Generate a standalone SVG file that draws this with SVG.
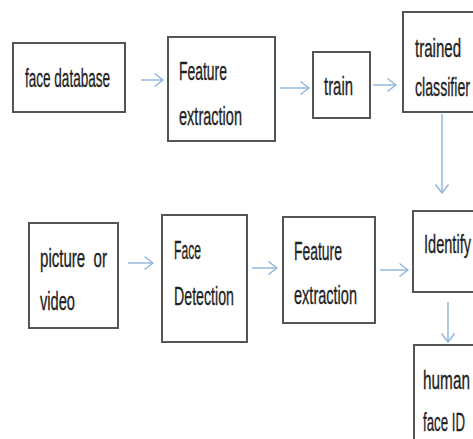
<svg xmlns="http://www.w3.org/2000/svg" width="473" height="439" viewBox="0 0 473 439">
  <defs>
    <marker id="chev" viewBox="0 0 10 16" refX="9.5" refY="8" markerWidth="10" markerHeight="16" markerUnits="userSpaceOnUse" orient="auto">
      <path d="M1,1.5 L9.5,8 L1,14.5" fill="none" stroke="#8db3d9" stroke-width="1.4"/>
    </marker>
  </defs>
  <style>
    .box { fill: #ffffff; stroke: #555555; stroke-width: 2; }
    .lbl { font-family: "Liberation Sans", Arial, sans-serif; font-size: 26px; fill: #1e1e1e; stroke: #1e1e1e; stroke-width: 0.35; }
    .conn { stroke: #8db3d9; stroke-width: 1.4; fill: none; marker-end: url(#chev); }
  </style>
  <rect width="473" height="439" fill="#ffffff"/>

  <g id="connectors">
    <line class="conn" x1="141" y1="80" x2="163" y2="80"/>
    <line class="conn" x1="280" y1="88" x2="309" y2="88"/>
    <line class="conn" x1="373" y1="85" x2="396" y2="85"/>
    <line class="conn" x1="442" y1="114" x2="442" y2="193"/>
    <line class="conn" x1="128" y1="263" x2="153" y2="263"/>
    <line class="conn" x1="252" y1="268" x2="277" y2="268"/>
    <line class="conn" x1="380" y1="270" x2="408" y2="270"/>
    <line class="conn" x1="448" y1="302" x2="448" y2="342"/>
  </g>

  <g id="face-database">
    <rect class="box" x="13" y="43" width="112" height="69"/>
    <text class="lbl" x="25" y="87" textLength="85" lengthAdjust="spacingAndGlyphs">face database</text>
  </g>
  <g id="feature-extraction-1">
    <rect class="box" x="168" y="37" width="107" height="104"/>
    <text class="lbl" x="179" y="80" textLength="48" lengthAdjust="spacingAndGlyphs">Feature</text>
    <text class="lbl" x="179" y="125" textLength="63" lengthAdjust="spacingAndGlyphs">extraction</text>
  </g>
  <g id="train">
    <rect class="box" x="313" y="52" width="57" height="66"/>
    <text class="lbl" x="324" y="95" textLength="29" lengthAdjust="spacingAndGlyphs">train</text>
  </g>
  <g id="trained-classifier">
    <rect class="box" x="403" y="12" width="80" height="100"/>
    <text class="lbl" x="415" y="57" textLength="46" lengthAdjust="spacingAndGlyphs">trained</text>
    <text class="lbl" x="415" y="96" textLength="55" lengthAdjust="spacingAndGlyphs">classifier</text>
  </g>
  <g id="picture-or-video">
    <rect class="box" x="29" y="223" width="89" height="105"/>
    <text class="lbl" x="40" y="267" textLength="67" lengthAdjust="spacingAndGlyphs">picture&#160; or</text>
    <text class="lbl" x="40" y="310" textLength="35" lengthAdjust="spacingAndGlyphs">video</text>
  </g>
  <g id="face-detection">
    <rect class="box" x="162" y="215" width="85" height="127"/>
    <text class="lbl" x="174" y="259" textLength="27" lengthAdjust="spacingAndGlyphs">Face</text>
    <text class="lbl" x="174" y="305" textLength="60" lengthAdjust="spacingAndGlyphs">Detection</text>
  </g>
  <g id="feature-extraction-2">
    <rect class="box" x="283" y="217" width="92" height="106"/>
    <text class="lbl" x="294" y="260" textLength="48" lengthAdjust="spacingAndGlyphs">Feature</text>
    <text class="lbl" x="294" y="304" textLength="63" lengthAdjust="spacingAndGlyphs">extraction</text>
  </g>
  <g id="identify">
    <rect class="box" x="413" y="211" width="70" height="81"/>
    <text class="lbl" x="424" y="253" textLength="47" lengthAdjust="spacingAndGlyphs">Identify</text>
  </g>
  <g id="human-face-id">
    <rect class="box" x="414" y="345" width="70" height="110"/>
    <text class="lbl" x="423" y="389" textLength="47" lengthAdjust="spacingAndGlyphs">human</text>
    <text class="lbl" x="423" y="431" textLength="42" lengthAdjust="spacingAndGlyphs">face ID</text>
  </g>
</svg>
